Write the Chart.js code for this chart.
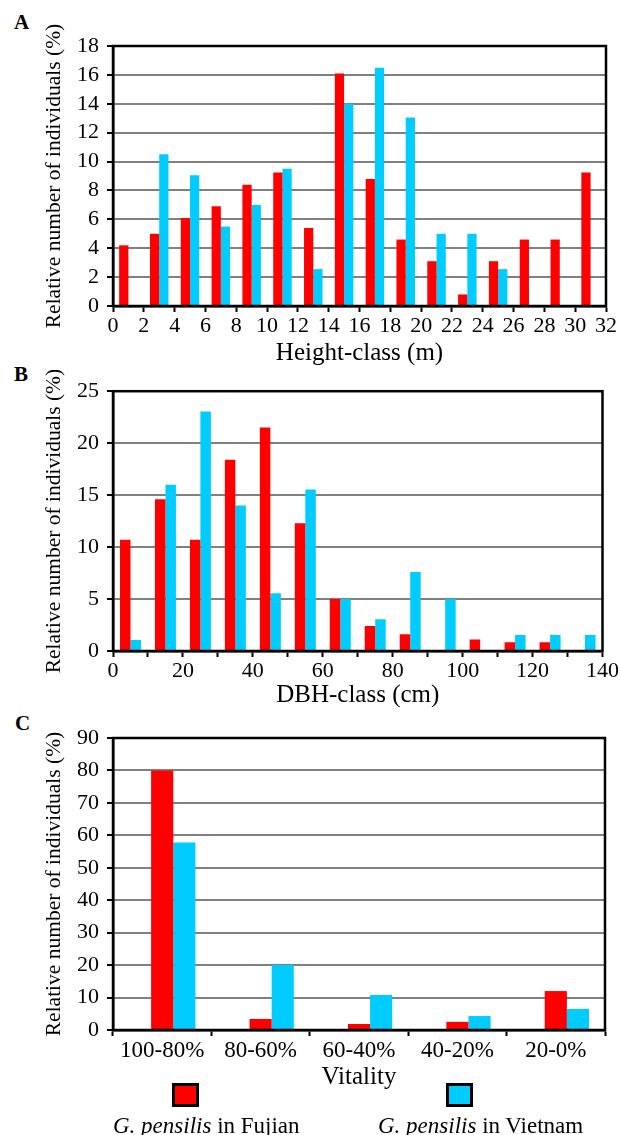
<!DOCTYPE html>
<html>
<head>
<meta charset="utf-8">
<script src="https://cdn.jsdelivr.net/npm/chart.js@4.4.1/dist/chart.umd.min.js"></script>
<style>
  body { margin: 0; background: #fff; }
  #wrap { position: relative; width: 620px; height: 1135px; overflow: hidden; font-family: 'Liberation Serif', 'Times New Roman', serif; }
  canvas { position: absolute; left: 0; }
  .panel { position: absolute; font-weight: bold; font-size: 21px; line-height: 1; }
  .box { position: absolute; width: 21px; height: 18px; border: 3px solid #000; }
  .leg { position: absolute; font-size: 23px; line-height: 1; white-space: nowrap; }
</style>
</head>
<body>
<div id="wrap">
  <div class="panel" style="left:14px; top:12px;">A</div>
  <div class="panel" style="left:14px; top:364px;">B</div>
  <div class="panel" style="left:15px; top:713px;">C</div>
  <canvas id="chartA" width="620" height="370" style="top:0"></canvas>
  <canvas id="chartB" width="620" height="340" style="top:370px"></canvas>
  <canvas id="chartC" width="620" height="390" style="top:710px"></canvas>
  <div class="box" style="left:172px; top:1083px; background:#ff0000;"></div>
  <div class="box" style="left:446px; top:1083px; background:#00ccff;"></div>
  <div class="leg" style="left:113px; top:1114px;"><i>G. pensilis</i> in Fujian</div>
  <div class="leg" style="left:378px; top:1114px;"><i>G. pensilis</i> in Vietnam</div>
</div>
<script>
// A: height classes (class midpoints, m)
var heightMid = [1, 3, 5, 7, 9, 11, 13, 15, 17, 19, 21, 23, 25, 27, 29, 31];
var heightFujian = [4.2, 5.0, 6.1, 6.9, 8.4, 9.25, 5.4, 16.1, 8.8, 4.6, 3.1, 0.8, 3.1, 4.6, 4.6, 9.25];
var heightVietnam = [0, 10.5, 9.05, 5.5, 7.0, 9.5, 2.55, 14.0, 16.5, 13.05, 5.0, 5.0, 2.55, 0, 0, 0];

// B: DBH classes (class midpoints, cm)
var dbhMid = [5, 15, 25, 35, 45, 55, 65, 75, 85, 95, 105, 115, 125, 135];
var dbhFujian = [10.7, 14.6, 10.7, 18.4, 21.5, 12.3, 5.0, 2.4, 1.6, 0, 1.1, 0.85, 0.85, 0];
var dbhVietnam = [1.05, 16.0, 23.05, 14.0, 5.55, 15.55, 5.0, 3.05, 7.6, 5.0, 0, 1.55, 1.55, 1.55];

// C: vitality classes
var vitalityLabels = ['100-80%', '80-60%', '60-40%', '40-20%', '20-0%'];
var vitalityFujian = [80.0, 3.4, 1.85, 2.5, 12.0];
var vitalityVietnam = [57.8, 20.0, 10.8, 4.3, 6.5];

var RED = '#ff0000';
var BLUE = '#00ccff';
var GRID = '#808080';
var FONT = "'Liberation Serif', 'Times New Roman', serif";

Chart.defaults.color = '#000';
Chart.defaults.font.family = FONT;

// black box round the plot area
var framePlugin = {
    id: 'frame',
    afterDatasetsDraw: function(chart) {
        var a = chart.chartArea, ctx = chart.ctx;
        ctx.save();
        ctx.strokeStyle = '#000';
        ctx.lineWidth = 2.5;
        ctx.strokeRect(a.left, a.top, a.right - a.left, a.bottom - a.top);
        ctx.restore();
    }
};

function points(xs, ys) {
    return xs.map(function(x, i) { return { x: x, y: ys[i] }; });
}

function yAxis(max, step, leftWidth) {
    return {
        min: 0, max: max,
        ticks: { stepSize: step, autoSkip: false, padding: 8, font: { size: 22 } },
        grid: { color: GRID, lineWidth: 2, tickColor: '#000', tickLength: 6, tickWidth: 2 },
        border: { color: '#000', width: 2.5 },
        title: { display: true, text: 'Relative number of individuals (%)', font: { size: 21.5, lineHeight: 1 }, padding: { top: 44, bottom: 0 } },
        afterFit: function(scale) { scale.width = leftWidth; }
    };
}

function linearX(max, step, title, height, labelEvery, titlePad) {
    return {
        type: 'linear', min: 0, max: max, offset: false,
        ticks: {
            stepSize: step, autoSkip: false, maxRotation: 0, padding: 1, font: { size: 22 },
            callback: function(v) { return v % labelEvery === 0 ? v : ''; }
        },
        grid: { drawOnChartArea: false, offset: false, tickColor: '#000', tickLength: 6, tickWidth: 2 },
        border: { color: '#000', width: 2.5 },
        title: { display: true, text: title, font: { size: 25, lineHeight: 1 }, padding: { top: 0, bottom: titlePad } },
        afterFit: function(scale) { scale.height = height; }
    };
}

function baseOptions(padTop, padRight) {
    return {
        responsive: false,
        animation: false,
        devicePixelRatio: 1,
        layout: { padding: { top: padTop, right: padRight, left: 0, bottom: 0 } },
        plugins: { legend: { display: false }, tooltip: { enabled: false } }
    };
}

var optsA = baseOptions(46, 14);
optsA.scales = { x: linearX(32, 2, 'Height-class (m)', 64, 2, 4), y: yAxis(18, 2, 113) };
new Chart(document.getElementById('chartA'), {
    type: 'bar',
    data: {
        datasets: [
            { label: 'G. pensilis in Fujian', data: points(heightMid, heightFujian), backgroundColor: RED },
            { label: 'G. pensilis in Vietnam', data: points(heightMid, heightVietnam), backgroundColor: BLUE }
        ]
    },
    options: Object.assign(optsA, { datasets: { bar: { categoryPercentage: 0.6, barPercentage: 1 } } }),
    plugins: [framePlugin]
});

var optsB = baseOptions(21, 14);
optsB.scales = { x: linearX(140, 10, 'DBH-class (cm)', 59, 20, 2), y: yAxis(25, 5, 113) };
new Chart(document.getElementById('chartB'), {
    type: 'bar',
    data: {
        datasets: [
            { label: 'G. pensilis in Fujian', data: points(dbhMid, dbhFujian), backgroundColor: RED },
            { label: 'G. pensilis in Vietnam', data: points(dbhMid, dbhVietnam), backgroundColor: BLUE }
        ]
    },
    options: Object.assign(optsB, { datasets: { bar: { categoryPercentage: 0.6, barPercentage: 1 } } }),
    plugins: [framePlugin]
});

var optsC = baseOptions(28, 15);
optsC.scales = {
    x: {
        ticks: { autoSkip: false, maxRotation: 0, padding: 1, font: { size: 23 } },
        grid: { drawOnChartArea: false, offset: true, tickColor: '#000', tickLength: 6, tickWidth: 2 },
        border: { color: '#000', width: 2.5 },
        title: { display: true, text: 'Vitality', font: { size: 25, lineHeight: 1 }, padding: { top: 0, bottom: 10 } },
        afterFit: function(scale) { scale.height = 70; }
    },
    y: yAxis(90, 10, 113)
};
new Chart(document.getElementById('chartC'), {
    type: 'bar',
    data: {
        labels: vitalityLabels,
        datasets: [
            // empty first slot: the source chart leaves a gap left of each pair
            { label: '', data: [], backgroundColor: 'rgba(0,0,0,0)' },
            { label: 'G. pensilis in Fujian', data: vitalityFujian, backgroundColor: RED },
            { label: 'G. pensilis in Vietnam', data: vitalityVietnam, backgroundColor: BLUE }
        ]
    },
    options: Object.assign(optsC, { datasets: { bar: { categoryPercentage: 0.675, barPercentage: 1 } } }),
    plugins: [framePlugin]
});
</script>
</body>
</html>
